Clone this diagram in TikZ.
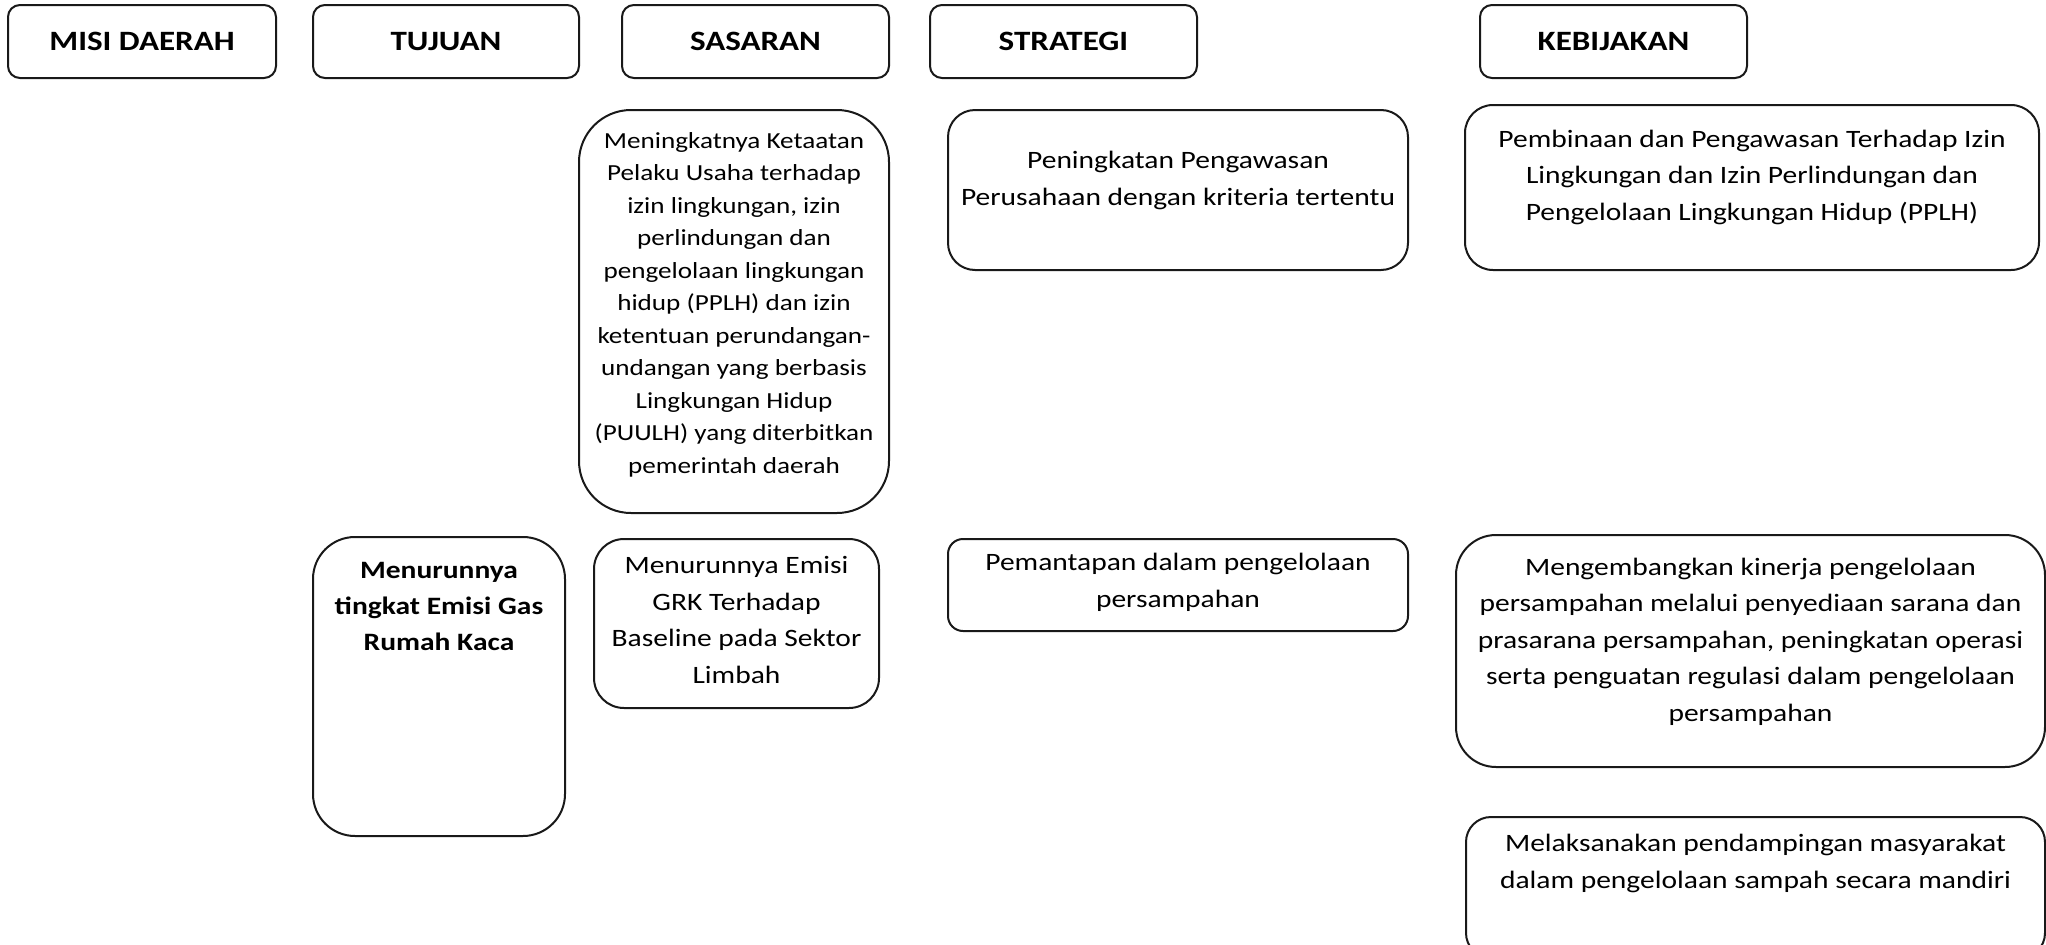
\documentclass[tikz,border=0pt]{standalone}
\usepackage{fontspec}
\setmainfont{Carlito}[FakeStretch=1.18]
\tikzset{
  box/.style={draw=black!90, line width=2pt, fill=none},
  hdr/.style={anchor=base, font=\fontsize{28}{36}\selectfont\bfseries, inner sep=0pt},
  txt/.style={anchor=base, align=center, inner sep=0pt, font=\fontsize{25}{36.5}\selectfont},
  txtS/.style={anchor=base, align=center, inner sep=0pt, font=\fontsize{23}{32.5}\selectfont},
  txtB/.style={anchor=base, align=center, inner sep=0pt, font=\fontsize{25}{36}\selectfont\bfseries},
}
\begin{document}
\begin{tikzpicture}[x=1pt,y=-1pt]
\useasboundingbox (0,0) rectangle (2046,945);
\clip (0,0) rectangle (2046,945);
% headers
\draw[box, rounded corners=12] (8,5) rectangle (276,78);
\draw[box, rounded corners=12] (313,5) rectangle (579,78);
\draw[box, rounded corners=12] (622,5) rectangle (889,78);
\draw[box, rounded corners=12] (930,5) rectangle (1197,78);
\draw[box, rounded corners=12] (1480,5) rectangle (1747,78);
\node[hdr] (hmisi) at (142,50) {MISI DAERAH};
\node[hdr] (htujuan) at (446,50) {TUJUAN};
\node[hdr] (hsasaran) at (755.5,50) {SASARAN};
\node[hdr] (hstrategi) at (1063.5,50) {STRATEGI};
\node[hdr] (hkebijakan) at (1613.5,50) {KEBIJAKAN};
% row 1
\draw[box, rounded corners=52] (579,110) rectangle (889,513);
\node[txtS] (s1) at (734,473) {Meningkatnya Ketaatan\\Pelaku Usaha terhadap\\izin lingkungan, izin\\perlindungan dan\\pengelolaan lingkungan\\hidup (PPLH) dan izin\\ketentuan perundangan-\\undangan yang berbasis\\Lingkungan Hidup\\(PUULH) yang diterbitkan\\pemerintah daerah};
\draw[box, rounded corners=27] (948,110) rectangle (1408,270);
\node[txt] (st1) at (1178,205) {Peningkatan Pengawasan\\Perusahaan dengan kriteria tertentu};
\draw[box, rounded corners=28] (1465,105) rectangle (2039,270);
\node[txt] (k1) at (1752,220) {Pembinaan dan Pengawasan Terhadap Izin\\Lingkungan dan Izin Perlindungan dan\\Pengelolaan Lingkungan Hidup (PPLH)};
% row 2
\draw[box, rounded corners=42] (313,537) rectangle (565,836);
\node[txtB] (t2) at (439,650) {Menurunnya\\tingkat Emisi Gas\\Rumah Kaca};
\draw[box, rounded corners=30] (594,539) rectangle (879,708);
\node[txt] (s2) at (736.5,683) {Menurunnya Emisi\\GRK Terhadap\\Baseline pada Sektor\\Limbah};
\draw[box, rounded corners=15] (948,539) rectangle (1408,631);
\node[txt] (st2) at (1178,607) {Pemantapan dalam pengelolaan\\persampahan};
\draw[box, rounded corners=40] (1456,535) rectangle (2045,767);
\node[txt] (k2) at (1750.5,721) {Mengembangkan kinerja pengelolaan\\persampahan melalui penyediaan sarana dan\\prasarana persampahan, peningkatan operasi\\serta penguatan regulasi dalam pengelolaan\\persampahan};
\draw[box, rounded corners=25] (1466,817) rectangle (2045,958);
\node[txt] (k3) at (1755.5,888) {Melaksanakan pendampingan masyarakat\\dalam pengelolaan sampah secara mandiri};
\end{tikzpicture}
\end{document}
